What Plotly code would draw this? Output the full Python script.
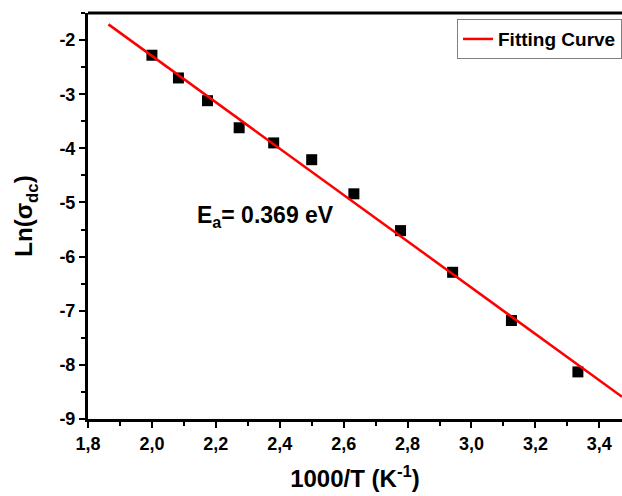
import plotly.graph_objects as go

# Data
inv_T = [2.000, 2.083, 2.174, 2.273, 2.381, 2.500, 2.632, 2.778, 2.941, 3.125, 3.333]
ln_sigma = [-2.28, -2.70, -3.12, -3.62, -3.90, -4.21, -4.84, -5.52, -6.29, -7.18, -8.13]
fit_x = [1.864, 3.471]
fit_y = [-1.71, -8.59]
x_tickvals = [1.8, 2.0, 2.2, 2.4, 2.6, 2.8, 3.0, 3.2, 3.4]
x_ticktext = ["1,8", "2,0", "2,2", "2,4", "2,6", "2,8", "3,0", "3,2", "3,4"]
y_tickvals = [-9, -8, -7, -6, -5, -4, -3, -2]
y_ticktext = ["-9", "-8", "-7", "-6", "-5", "-4", "-3", "-2"]

FONT = "Liberation Sans"
TICKFONT = dict(size=18, family=FONT, weight="bold", color="black")

fig = go.Figure()
fig.add_trace(go.Scatter(
    x=inv_T, y=ln_sigma, mode="markers",
    marker=dict(symbol="square", size=11, color="black"),
    showlegend=False,
))
fig.add_trace(go.Scatter(
    x=fit_x, y=fit_y, mode="lines",
    line=dict(color="#ff0000", width=2.5),
    name="<b>Fitting Curve</b>",
))

fig.update_layout(
    width=622, height=496,
    margin=dict(l=88, r=0, t=13, b=77),
    plot_bgcolor="white", paper_bgcolor="white",
    font=dict(family=FONT, color="black", size=18),
    legend=dict(
        x=1, xanchor="right", y=0.985, yanchor="top",
        bordercolor="#808080", borderwidth=1, bgcolor="white",
        font=dict(size=19, family=FONT),
        itemwidth=30, tracegroupgap=0,
    ),
    annotations=[dict(
        x=0.20, y=0.50, xref="paper", yref="paper", xanchor="left", yanchor="middle",
        text="<b>E<sub>a</sub>= 0.369 eV</b>", showarrow=False,
        font=dict(size=23, family=FONT, color="black"),
    )],
    shapes=[dict(type="line", xref="paper", yref="paper", x0=0, x1=1, y0=1, y1=1,
                 line=dict(color="black", width=3))],
)
fig.update_xaxes(
    range=[1.8, 3.471],
    tickmode="array", tickvals=x_tickvals, ticktext=["<b>%s</b>" % t for t in x_ticktext],
    ticks="outside", ticklen=6, tickwidth=2, tickcolor="black",
    showline=True, linewidth=3, linecolor="black",
    showgrid=False, zeroline=False,
    tickfont=TICKFONT,
    minor=dict(ticks="outside", ticklen=4, tickwidth=2, tickcolor="black", dtick=0.1, showgrid=False),
    title=dict(text="<b>1000/T (K<sup>-1</sup>)</b>", font=dict(size=24, family=FONT), standoff=18),
)
fig.update_yaxes(
    range=[-9, -1.5],
    tickmode="array", tickvals=y_tickvals, ticktext=["<b>%s</b>" % t for t in y_ticktext],
    ticks="outside", ticklen=6, tickwidth=2, tickcolor="black",
    showline=True, linewidth=3, linecolor="black",
    showgrid=False, zeroline=False,
    tickfont=TICKFONT,
    minor=dict(ticks="outside", ticklen=4, tickwidth=2, tickcolor="black", dtick=0.5, showgrid=False),
    title=dict(text="<b>Ln(σ<sub>dc</sub>)</b>", font=dict(size=24, family=FONT), standoff=20),
)

fig.write_html("out.html")
